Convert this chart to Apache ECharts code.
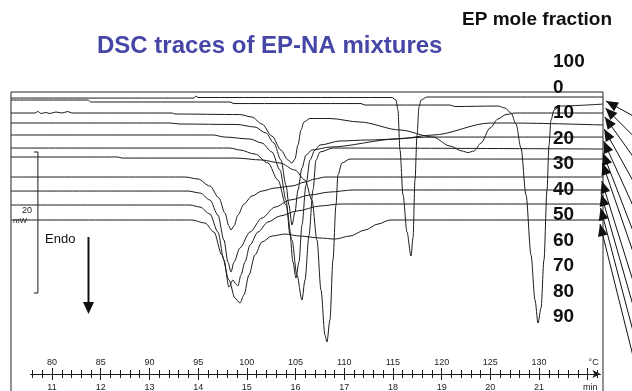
<!DOCTYPE html>
<html>
<head>
<meta charset="utf-8">
<script src="https://cdn.jsdelivr.net/npm/echarts@6/dist/echarts.min.js"></script>
<style>
  html, body { margin: 0; padding: 0; background: #fff; }
  #chart { width: 632px; height: 391px; }
</style>
</head>
<body>
<div id="chart"></div>
<script>
// DSC traces, [temperature °C, heat flow mW] (endo down)
const ep100 = [[75.8, 17.30], [94.58, 17.30], [94.78, 17.59], [94.99, 17.38], [114.91, 17.38], [115.32, 17.02], [115.52, 15.60], [115.73, 9.93], [116.04, 3.55], [116.45, -1.70], [116.86, -5.11], [117.07, -2.55], [117.27, 5.67], [117.48, 12.06], [117.68, 16.03], [117.89, 17.02], [118.50, 17.45], [136.57, 17.45]];
const ep0 = [[75.8, 17.02], [83.70, 17.02], [84.00, 16.74], [98.28, 16.74], [98.69, 16.52], [111.73, 16.52], [112.14, 16.31], [120.86, 16.31], [121.38, 16.10], [125.79, 16.17], [126.51, 15.89], [127.13, 15.18], [127.64, 13.62], [128.15, 10.21], [128.67, 3.55], [129.18, -4.96], [129.59, -11.35], [129.90, -14.61], [130.21, -12.48], [130.51, -5.67], [130.82, 4.26], [131.03, 10.64], [131.23, 14.18], [131.54, 15.60], [132.16, 16.17], [136.57, 16.45]];
const ep10 = [[75.8, 15.18], [78.25, 15.18], [78.56, 15.39], [78.87, 15.11], [79.38, 15.25], [79.79, 15.11], [80.41, 15.32], [81.03, 15.18], [81.64, 15.39], [82.05, 15.18], [92.32, 15.18], [92.63, 15.04], [99.30, 14.96], [100.53, 14.61], [101.56, 13.62], [102.59, 11.91], [103.51, 9.93], [104.23, 8.51], [104.64, 8.09], [104.95, 8.65], [105.26, 10.64], [105.57, 12.77], [105.87, 13.90], [106.49, 14.40], [108.54, 14.40], [111.62, 13.90], [115.73, 12.77], [119.12, 11.77], [120.86, 10.50], [122.10, 9.79], [122.71, 9.57], [123.33, 9.79], [124.05, 10.92], [124.97, 13.05], [125.79, 14.33], [126.61, 14.96], [127.54, 15.18], [136.57, 15.18]];
const ep20 = [[75.8, 13.76], [92.12, 13.76], [93.14, 13.62], [98.99, 13.55], [100.84, 13.19], [101.97, 12.34], [102.79, 10.92], [103.51, 8.51], [104.03, 4.96], [104.33, 2.13], [104.64, -0.71], [104.95, 1.13], [105.26, 4.26], [105.67, 7.38], [106.08, 9.22], [106.69, 9.93], [108.54, 10.35], [115.42, 11.49], [119.12, 12.06], [124.97, 13.76], [127.02, 13.76], [136.57, 13.48]];
const ep30 = [[75.8, 12.06], [96.53, 12.06], [97.76, 11.77], [100.33, 11.49], [101.56, 10.92], [102.59, 9.65], [103.41, 7.09], [104.03, 2.84], [104.44, -2.13], [104.74, -5.96], [105.05, -8.23], [105.36, -5.96], [105.67, -0.71], [106.08, 4.96], [106.49, 8.51], [107.00, 9.93], [107.52, 10.64], [109.57, 11.21], [112.34, 11.35], [119.12, 11.77], [136.57, 11.77]];
const ep40 = [[75.8, 10.21], [98.28, 10.21], [99.30, 9.93], [100.84, 9.36], [102.18, 8.09], [103.20, 5.67], [104.03, 2.13], [104.64, -2.84], [105.15, -7.80], [105.67, -11.35], [105.98, -8.51], [106.39, -2.13], [106.80, 4.26], [107.11, 8.51], [107.52, 9.65], [108.85, 10.21], [136.57, 10.07]];
const ep50 = [[75.8, 8.94], [86.78, 8.94], [87.19, 8.79], [98.89, 8.79], [101.56, 8.51], [103.41, 8.09], [104.95, 7.09], [105.98, 5.67], [106.69, 2.84], [107.21, -2.84], [107.62, -9.93], [108.03, -16.31], [108.23, -17.30], [108.54, -14.18], [108.85, -5.67], [109.16, 2.13], [109.36, 6.38], [109.77, 8.09], [110.60, 8.65], [136.57, 8.65]];
const ep60 = [[75.8, 6.10], [93.66, 6.10], [94.99, 5.82], [96.22, 4.82], [97.15, 3.12], [97.76, 0.99], [98.17, -0.85], [98.38, -1.42], [98.69, -0.85], [99.10, 0.71], [99.71, 2.27], [100.53, 3.40], [101.56, 4.11], [102.90, 4.54], [104.64, 4.82], [105.98, 5.39], [107.00, 5.82], [108.03, 6.10], [136.57, 6.10]];
const ep70 = [[75.8, 4.11], [93.97, 4.11], [95.20, 3.83], [96.22, 2.84], [97.04, 0.71], [97.66, -2.84], [98.07, -5.96], [98.38, -7.38], [98.69, -5.96], [99.30, -3.97], [100.33, -1.70], [101.56, 0.28], [102.90, 1.84], [104.44, 2.84], [106.49, 3.55], [108.54, 3.97], [110.90, 4.26], [136.57, 4.26]];
const ep80 = [[75.8, 2.13], [94.17, 2.13], [95.20, 1.84], [96.22, 0.85], [97.04, -1.70], [97.66, -5.67], [98.17, -9.50], [98.58, -8.51], [98.89, -9.08], [99.10, -9.36], [99.40, -7.80], [99.82, -5.96], [100.33, -3.55], [101.15, -1.70], [102.18, -0.28], [103.41, 0.57], [105.15, 1.28], [107.52, 1.99], [109.57, 2.27], [136.57, 2.27]];
const ep90 = [[75.8, 0], [94.37, 0], [95.71, -0.43], [96.63, -1.70], [97.45, -4.96], [98.17, -8.51], [98.79, -11.06], [99.30, -11.77], [99.71, -10.64], [100.23, -7.80], [100.84, -4.96], [101.56, -3.12], [102.59, -2.27], [103.92, -1.99], [105.46, -2.27], [107.52, -2.55], [109.06, -2.70], [110.60, -2.27], [112.14, -1.42], [113.47, -0.57], [114.70, 0], [136.57, 0]];

const fractionLabels = ['100', '0', '10', '20', '30', '40', '50', '60', '70', '80', '90'];
const traces = [ep100, ep0, ep10, ep20, ep30, ep40, ep50, ep60, ep70, ep80, ep90];

// 20 mW scale bar drawn at the left edge
const scaleBar = [[78.15, 9.65], [78.56, 9.65], [78.56, -10.35], [78.15, -10.35]];

const tempLabels = [80, 85, 90, 95, 100, 105, 110, 115, 120, 125, 130];
const minuteLabels = [11, 12, 13, 14, 15, 16, 17, 18, 19, 20, 21];
const tempMajorTicks = [80, 85, 90, 95, 100, 105, 110, 115, 120, 125, 130, 135];
const tempUnitAt = 135.6;
const minuteUnitAt = 22.05;

// time axis: 5 °C per minute, 80 °C at 11 min
const toMinutes = t => (t - 25) / 5;
const tMin = 77.8, tMax = 136.3;
const tempMinorTicks = [];
for (let t = 78; t <= 136; t++) tempMinorTicks.push(t);
const minuteMajorTicks = tempMajorTicks.map(toMinutes);
const minuteMinorTicks = tempMinorTicks.map(toMinutes);

const lineColor = '#1c1c1c';
const font = '"Liberation Sans", Arial, sans-serif';

const chart = echarts.init(document.getElementById('chart'));

const series = traces.map((data, i) => ({
  name: 'EP ' + fractionLabels[i],
  type: 'line',
  xAxisIndex: 0,
  yAxisIndex: 0,
  data,
  showSymbol: false,
  smooth: 0.3,
  smoothMonotone: 'x',
  lineStyle: { color: lineColor, width: 1 },
  silent: true
}));
series.push({
  name: 'scale',
  type: 'line',
  xAxisIndex: 0,
  yAxisIndex: 0,
  data: scaleBar,
  showSymbol: false,
  lineStyle: { color: lineColor, width: 1 },
  silent: true
});

const bottomAxis = {
  type: 'value',
  gridIndex: 1,
  position: 'bottom',
  splitLine: { show: false },
  axisLine: { show: false, onZero: false }
};

chart.setOption({
  animation: false,
  backgroundColor: '#fff',
  title: [
    {
      text: 'DSC traces of EP-NA mixtures',
      left: 97, top: 34, padding: 0,
      textStyle: { color: '#4646a6', fontSize: 24, fontWeight: 'bold', fontFamily: font }
    },
    {
      text: 'EP mole fraction',
      right: 20, top: 10, padding: 0,
      textStyle: { color: '#111', fontSize: 19, fontWeight: 'bold', fontFamily: font }
    }
  ],
  grid: [
    { left: 11, right: 29, top: 92, bottom: -9, show: true, borderColor: '#222', borderWidth: 1, outerBoundsMode: 'none' },
    { left: 30.6, right: 31.6, top: 372, bottom: 17, outerBoundsMode: 'none' }
  ],
  xAxis: [
    { type: 'value', gridIndex: 0, min: 75.8, max: 136.57, show: false },
    {
      ...bottomAxis, min: tMin, max: tMax,
      axisLine: { show: true, onZero: false, symbol: ['none', 'arrow'], symbolSize: [6, 8], lineStyle: { color: lineColor, width: 1 } },
      axisTick: { show: true, inside: true, length: 6, customValues: tempMajorTicks, lineStyle: { color: lineColor } },
      axisLabel: {
        show: true, inside: true, margin: 7, fontSize: 9, color: '#222', fontFamily: font,
        customValues: tempLabels.concat([tempUnitAt]),
        formatter: v => (v === tempUnitAt ? '°C' : String(v))
      }
    },
    {
      ...bottomAxis, min: tMin, max: tMax,
      axisTick: { show: true, inside: true, length: 4, customValues: tempMinorTicks, lineStyle: { color: lineColor } },
      axisLabel: { show: false }
    },
    {
      ...bottomAxis, min: toMinutes(tMin), max: toMinutes(tMax),
      axisTick: { show: true, inside: false, length: 6, customValues: minuteMajorTicks, lineStyle: { color: lineColor } },
      axisLabel: {
        show: true, margin: 9, fontSize: 9, color: '#222', fontFamily: font,
        customValues: minuteLabels.concat([minuteUnitAt]),
        formatter: v => (v === minuteUnitAt ? 'min' : String(v))
      }
    },
    {
      ...bottomAxis, min: toMinutes(tMin), max: toMinutes(tMax),
      axisTick: { show: true, inside: false, length: 4, customValues: minuteMinorTicks, lineStyle: { color: lineColor } },
      axisLabel: { show: false }
    }
  ],
  yAxis: [
    { type: 'value', gridIndex: 0, min: -25.53, max: 18.16, show: false },
    { type: 'value', gridIndex: 1, min: 0, max: 1, show: false }
  ],
  series
});

// annotations: labels, Endo arrow, fan of arrows to the trace ends
const graphics = [];
fractionLabels.forEach((label, i) => {
  graphics.push({
    type: 'text', x: 553, y: 62 + 25.5 * i, z: 10,
    style: { text: label, fontSize: 19, fontWeight: 'bold', fontFamily: font, fill: '#111', align: 'left', verticalAlign: 'middle' }
  });
});
graphics.push(
  { type: 'text', x: 27, y: 210.5, z: 10, style: { text: '20', fontSize: 9, fontFamily: font, fill: '#222', align: 'center', verticalAlign: 'middle' } },
  { type: 'text', x: 20, y: 221, z: 10, style: { text: 'mW', fontSize: 8, fontFamily: font, fill: '#222', align: 'center', verticalAlign: 'middle' } },
  { type: 'text', x: 45, y: 239, z: 10, style: { text: 'Endo', fontSize: 13, fontFamily: font, fill: '#111', align: 'left', verticalAlign: 'middle' } },
  { type: 'line', z: 10, shape: { x1: 88.5, y1: 237, x2: 88.5, y2: 304 }, style: { stroke: '#111', lineWidth: 2 } },
  { type: 'polygon', z: 10, shape: { points: [[83, 302], [94, 302], [88.5, 314]] }, style: { fill: '#111' } }
);

const arrowSlopes = [0.55, 1.0, 1.4, 1.8, 2.2, 2.6, 2.9, 3.2, 3.5, 3.8, 4.0];
traces.forEach((data, i) => {
  const end = chart.convertToPixel({ xAxisIndex: 0, yAxisIndex: 0 }, data[data.length - 1]);
  const tip = [end[0] + 3 - i * 0.6, end[1] + 4];
  const s = arrowSlopes[i];
  const len = Math.sqrt(1 + s * s);
  const d = [-1 / len, -s / len];           // direction towards the tip
  const n = [-d[1], d[0]];
  const far = [tip[0] + 60, tip[1] + 60 * s];
  const base = [tip[0] - d[0] * 12, tip[1] - d[1] * 12];
  graphics.push(
    { type: 'line', z: 10, shape: { x1: tip[0], y1: tip[1], x2: far[0], y2: far[1] }, style: { stroke: '#111', lineWidth: 1 } },
    { type: 'polygon', z: 10, shape: { points: [tip, [base[0] + n[0] * 5, base[1] + n[1] * 5], [base[0] - n[0] * 5, base[1] - n[1] * 5]] }, style: { fill: '#111' } }
  );
});

chart.setOption({ graphic: graphics });
</script>
</body>
</html>
